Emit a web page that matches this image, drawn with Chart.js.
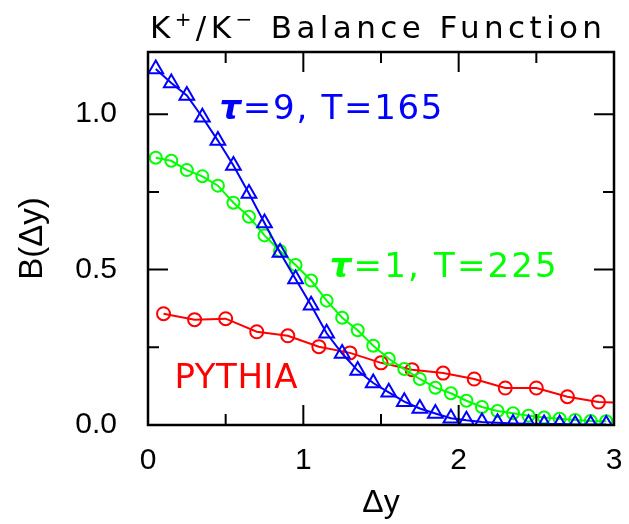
<!DOCTYPE html>
<html>
<head>
<meta charset="utf-8">
<script src="https://cdn.jsdelivr.net/npm/chart.js@4/dist/chart.umd.min.js"></script>
<style>
  html, body { margin: 0; padding: 0; background: #fff; }
  #wrap { width: 629px; height: 524px; }
</style>
</head>
<body>
<div id="wrap"><canvas id="chart" width="629" height="524"></canvas></div>
<script>
// Delta y bins
const dyFine = [0.05, 0.15, 0.25, 0.35, 0.45, 0.55, 0.65, 0.75, 0.85, 0.95,
                1.05, 1.15, 1.25, 1.35, 1.45, 1.55, 1.65, 1.75, 1.85, 1.95,
                2.05, 2.15, 2.25, 2.35, 2.45, 2.55, 2.65, 2.75, 2.85, 2.95];
const dyCoarse = [0.1, 0.3, 0.5, 0.7, 0.9, 1.1, 1.3, 1.5, 1.7, 1.9, 2.1, 2.3, 2.5, 2.7, 2.9, 3.1];

// tau=9, T=165 (blue triangles)
const bTau9 = [1.145, 1.10, 1.06, 0.99, 0.915, 0.835, 0.745, 0.65, 0.555, 0.47,
               0.385, 0.295, 0.23, 0.175, 0.135, 0.105, 0.075, 0.053, 0.037, 0.022,
               0.015, 0.01, 0.007, 0.005, 0.004, 0.003, 0.003, 0.002, 0.002, 0.002];
// tau=1, T=225 (green circles)
const bTau1 = [0.86, 0.85, 0.82, 0.80, 0.77, 0.715, 0.67, 0.61, 0.56, 0.515,
               0.465, 0.40, 0.345, 0.305, 0.255, 0.213, 0.18, 0.148, 0.12, 0.102,
               0.078, 0.058, 0.045, 0.038, 0.03, 0.024, 0.02, 0.016, 0.013, 0.012];
// PYTHIA (red circles), last bin lies past the frame
const bPythia = [0.358, 0.339, 0.342, 0.30, 0.287, 0.252, 0.232, 0.20, 0.178, 0.167,
                 0.148, 0.119, 0.119, 0.091, 0.074, 0.07];

const xTicks = [0, 1, 2, 3];
const yTicks = [0.0, 0.5, 1.0];

const notes = [
  { parts: [['τ', 'italic bold '], ['=9, T=165', '']], x: 0.46, y: 0.984, color: '#0000ff', width: 223 },
  { parts: [['τ', 'italic bold '], ['=1, T=225', '']], x: 1.17, y: 0.477, color: '#00ff00', width: 227 },
  { parts: [['PYTHIA', '']], x: 0.17, y: 0.12, color: '#ff0000', width: 123 }
];

const FONT = '"Liberation Sans", Arial, sans-serif';
const WIDE = '"DejaVu Sans", sans-serif';

function pts(xs, ys) { return ys.map((v, i) => ({ x: xs[i], y: v })); }

// draw text pieces, spreading letters so the whole run fills the target width
function drawSpaced(ctx, parts, x, y, width) {
  let natural = 0, n = 0;
  ctx.letterSpacing = '0px';
  parts.forEach(p => {
    ctx.font = p.font;
    natural += ctx.measureText(p.text).width;
    n += [...p.text].length;
  });
  const ls = Math.max(0, (width - natural) / Math.max(1, n - 1));
  let cx = x;
  parts.forEach(p => {
    ctx.font = p.font;
    ctx.letterSpacing = ls + 'px';
    ctx.fillText(p.text, cx, y + (p.dy || 0));
    cx += ctx.measureText(p.text).width;
  });
  ctx.letterSpacing = '0px';
}

const framePlugin = {
  id: 'frame',
  afterDraw(chart) {
    const { ctx, chartArea: a, scales } = chart;
    const xs = scales.x, ys = scales.y;
    ctx.save();
    ctx.strokeStyle = '#000';
    ctx.lineWidth = 2.5;
    ctx.strokeRect(a.left, a.top, a.right - a.left, a.bottom - a.top);
    ctx.lineWidth = 2;
    ctx.beginPath();
    for (let v = 0.5; v < 3; v += 0.5) {
      const px = xs.getPixelForValue(v);
      const len = Number.isInteger(v) ? 20 : 11;
      ctx.moveTo(px, a.bottom); ctx.lineTo(px, a.bottom - len);
      ctx.moveTo(px, a.top); ctx.lineTo(px, a.top + len);
    }
    for (let v = 0.25; v < 1.2; v += 0.25) {
      const py = ys.getPixelForValue(v);
      const len = Math.abs(v * 2 - Math.round(v * 2)) < 1e-6 ? 20 : 11;
      ctx.moveTo(a.left, py); ctx.lineTo(a.left + len, py);
      ctx.moveTo(a.right, py); ctx.lineTo(a.right - len, py);
    }
    ctx.stroke();

    ctx.textBaseline = 'alphabetic';
    ctx.textAlign = 'left';

    // title with superscript charges
    ctx.fillStyle = '#000';
    const big = '31px ' + WIDE, small = '20px ' + WIDE;
    drawSpaced(ctx, [
      { text: 'K', font: big }, { text: '+', font: small, dy: -12 },
      { text: '/K', font: big }, { text: '−', font: small, dy: -12 },
      { text: ' Balance Function', font: big }
    ], 150, 38, 452);

    notes.forEach(nt => {
      ctx.fillStyle = nt.color;
      const parts = nt.parts.map(([t, st]) => ({ text: t, font: st + '34px ' + WIDE }));
      drawSpaced(ctx, parts, xs.getPixelForValue(nt.x), ys.getPixelForValue(nt.y), nt.width);
    });
    ctx.restore();
  }
};

new Chart(document.getElementById('chart'), {
  type: 'scatter',
  data: {
    datasets: [
      {
        label: 'tau=9, T=165',
        data: pts(dyFine, bTau9),
        showLine: true,
        borderColor: '#0000ff',
        backgroundColor: 'rgba(0,0,0,0)',
        borderWidth: 2,
        pointStyle: 'triangle',
        pointRadius: 8.5,
        pointBorderWidth: 2,
        pointBorderColor: '#0000ff',
        pointBackgroundColor: 'rgba(0,0,0,0)'
      },
      {
        label: 'tau=1, T=225',
        data: pts(dyFine, bTau1),
        showLine: true,
        borderColor: '#00ff00',
        backgroundColor: 'rgba(0,0,0,0)',
        borderWidth: 2,
        pointStyle: 'circle',
        pointRadius: 6,
        pointBorderWidth: 2,
        pointBorderColor: '#00ff00',
        pointBackgroundColor: 'rgba(0,0,0,0)'
      },
      {
        label: 'PYTHIA',
        data: pts(dyCoarse, bPythia),
        showLine: true,
        borderColor: '#ff0000',
        backgroundColor: 'rgba(0,0,0,0)',
        borderWidth: 2,
        pointStyle: 'circle',
        pointRadius: bPythia.map((v, i) => dyCoarse[i] > 3 ? 0 : 6.5),
        pointBorderWidth: 2,
        pointBorderColor: '#ff0000',
        pointBackgroundColor: 'rgba(0,0,0,0)'
      }
    ]
  },
  options: {
    responsive: false,
    animation: false,
    events: [],
    layout: { padding: { left: 0, right: 15, top: 52, bottom: 0 } },
    plugins: { legend: { display: false }, tooltip: { enabled: false }, title: { display: false } },
    scales: {
      x: {
        type: 'linear', min: 0, max: 3,
        afterFit(s) { s.height = 99; s.paddingLeft = 0; s.paddingRight = 0; },
        afterBuildTicks(s) { s.ticks = xTicks.map(v => ({ value: v })); },
        grid: { display: false, drawTicks: false },
        border: { display: false },
        ticks: { color: '#000', padding: 18, font: { family: FONT, size: 30 }, maxRotation: 0 },
        title: { display: true, text: 'Δy', color: '#000', font: { family: FONT, size: 32 }, padding: { top: 0, bottom: 2 } }
      },
      y: {
        type: 'linear', min: 0, max: 1.2,
        afterFit(s) { s.width = 148; s.paddingTop = 0; s.paddingBottom = 0; },
        afterBuildTicks(s) { s.ticks = yTicks.map(v => ({ value: v })); },
        grid: { display: false, drawTicks: false },
        border: { display: false },
        ticks: { color: '#000', padding: 31, font: { family: FONT, size: 30 }, callback: v => v.toFixed(1) },
        title: { display: true, text: 'B(Δy)', color: '#000', font: { family: FONT, size: 33 }, padding: { top: 13, bottom: 0 } }
      }
    }
  },
  plugins: [framePlugin]
});
</script>
</body>
</html>
